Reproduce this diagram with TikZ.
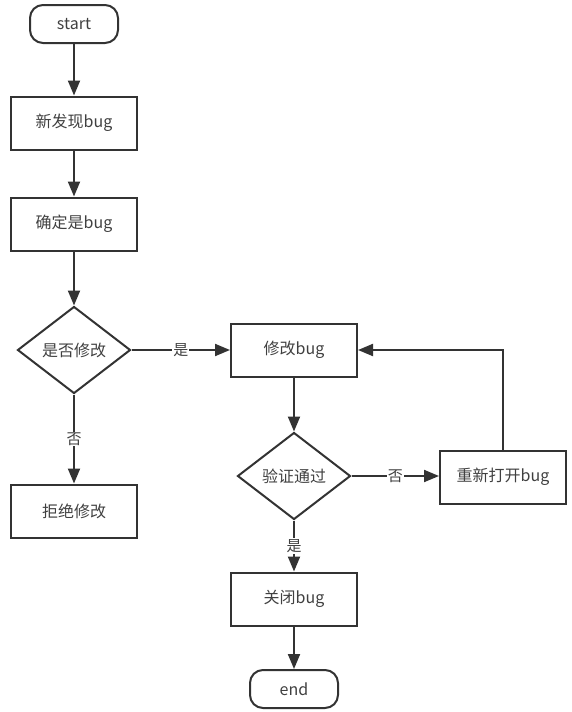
\documentclass[tikz,border=0pt]{standalone}
\usepackage{fontspec}
\setmainfont{Noto Sans CJK SC}
\usetikzlibrary{shapes.geometric,arrows.meta}
\definecolor{ln}{HTML}{333333}
\definecolor{txt}{HTML}{404040}
\begin{document}
\begin{tikzpicture}[x=1pt,y=-1pt,
  every node/.style={font=\fontsize{16}{18}\selectfont, text=txt},
  terminal/.style={draw=ln, line width=2pt, rounded corners=13pt, minimum width=88pt, minimum height=38pt, inner sep=0pt},
  proc/.style={draw=ln, line width=2pt, minimum width=126pt, minimum height=53pt, inner sep=0pt},
  decision/.style={draw=ln, line width=2pt, diamond, minimum width=113pt, minimum height=87pt, inner sep=0pt},
  flow/.style={draw=ln, line width=2pt, -{Triangle[length=15pt,width=12pt]}},
  lbl/.style={fill=white, inner sep=1pt, font=\fontsize{15}{17}\selectfont}]
\useasboundingbox (0,0) rectangle (572,712);
\node[terminal] (start) at (74,24) {start};
\node[proc] (new) at (74,123) {新发现bug};
\node[proc] (confirm) at (74,224) {确定是bug};
\node[decision] (ask) at (74,350) {是否修改};
\node[proc] (reject) at (74,511) {拒绝修改};
\node[proc] (fix) at (294,350) {修改bug};
\node[decision] (verify) at (294,476) {验证通过};
\node[proc] (reopen) at (503,477) {重新打开bug};
\node[proc] (close) at (294,599) {关闭bug};
\node[terminal] (end) at (294,689) {end};
\draw[flow] (start) -- (new);
\draw[flow] (new) -- (confirm);
\draw[flow] (confirm) -- (ask);
\draw[flow] (ask) -- node[lbl] {是} (fix);
\draw[flow] (ask) -- node[lbl] {否} (reject);
\draw[flow] (fix) -- (verify);
\draw[flow] (verify) -- node[lbl] {否} (verify -| reopen.west);
\draw[flow] (verify) -- node[lbl] {是} (close);
\draw[flow] (reopen.north) |- (fix.east);
\draw[flow] (close) -- (end);
\end{tikzpicture}
\end{document}
